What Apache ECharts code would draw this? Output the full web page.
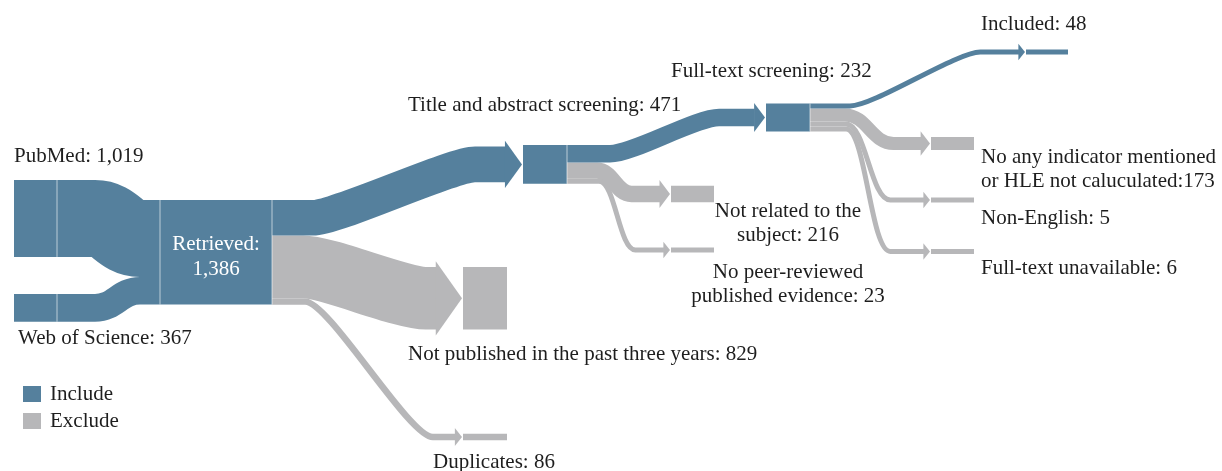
<!DOCTYPE html>
<html><head><meta charset="utf-8">
<script src="https://cdn.jsdelivr.net/npm/echarts@6/dist/echarts.min.js"></script>
<style>html,body{margin:0;padding:0;background:#fff}#chart{width:1222px;height:471px}</style>
</head><body><div id="chart"></div>
<script>
// ---------------- data ----------------
const nodeNames = [
  'PubMed', 'Web of Science', 'Retrieved', 'Title and abstract screening',
  'Not published in the past three years', 'Duplicates', 'Full-text screening',
  'Not related to the subject', 'No peer-reviewed published evidence', 'Included',
  'No any indicator mentioned or HLE not caluculated', 'Non-English', 'Full-text unavailable'
];
const nodeValues = [1019, 367, 1386, 471, 829, 86, 232, 216, 23, 48, 173, 5, 6];
const nodeGroups = ['Include', 'Include', 'Include', 'Include', 'Exclude', 'Exclude', 'Include',
  'Exclude', 'Exclude', 'Include', 'Exclude', 'Exclude', 'Exclude'];
const nodeLabels = [
  'PubMed: {v}', 'Web of Science: {v}', 'Retrieved:\n{v}', 'Title and abstract screening: {v}',
  'Not published in the past three years: {v}', 'Duplicates: {v}', 'Full-text screening: {v}',
  'Not related to the\nsubject: {v}', 'No peer-reviewed\npublished evidence: {v}', 'Included: {v}',
  'No any indicator mentioned\nor HLE not caluculated:{v}', 'Non-English: {v}', 'Full-text unavailable: {v}'
];
const linkSources = ['PubMed', 'Web of Science', 'Retrieved', 'Retrieved', 'Retrieved',
  'Title and abstract screening', 'Title and abstract screening', 'Title and abstract screening',
  'Full-text screening', 'Full-text screening', 'Full-text screening', 'Full-text screening'];
const linkTargets = ['Retrieved', 'Retrieved', 'Title and abstract screening',
  'Not published in the past three years', 'Duplicates', 'Full-text screening',
  'Not related to the subject', 'No peer-reviewed published evidence', 'Included',
  'No any indicator mentioned or HLE not caluculated', 'Non-English', 'Full-text unavailable'];
const linkValues = [1019, 367, 471, 829, 86, 232, 216, 23, 48, 173, 5, 6];
const groupNames = ['Include', 'Exclude'];

// ---------------- layout & style ----------------
const UNIT = 0.0755;      // layout units per record
const MIN_W = 5;          // minimum band width
const COLORS = { Include: '#55809d', Exclude: '#b7b7b9' };
const FONT_FAMILY = '"Liberation Serif", "Times New Roman", serif';
const FONT_SIZE = 21, LINE_H = 24.5;
const ARROW_GAP = 1, ARROW_EXTRA = 5.8;
const nodeLayout = {
  'PubMed': { x: 14, w: 43, yc: 218.5, arrow: false, lab: { dx: 0, dy: -62.5, align: 'left' } },
  'Web of Science': { x: 14, w: 43, yc: 307.9, arrow: false, lab: { dx: 4, dy: 31, align: 'left' } },
  'Retrieved': { x: 160, w: 112, yc: 252.3, arrow: false, lab: { dx: 56, dy: -7.5, align: 'center', fill: '#ffffff' } },
  'Title and abstract screening': { x: 523, w: 44, yc: 164.4, arrow: true, lab: { dx: -115, dy: -59.4, align: 'left' } },
  'Not published in the past three years': { x: 463, w: 44, yc: 298.3, arrow: true, lab: { dx: -55, dy: 55.7, align: 'left' } },
  'Duplicates': { x: 463, w: 44, yc: 437, arrow: true, lab: { dx: -30, dy: 25, align: 'left' } },
  'Full-text screening': { x: 766, w: 44, yc: 117.5, arrow: true, lab: { dx: -95, dy: -46.5, align: 'left' } },
  'Not related to the subject': { x: 671, w: 43, yc: 194, arrow: true, lab: { dx: 117, dy: 17, align: 'center' } },
  'No peer-reviewed published evidence': { x: 671, w: 43, yc: 250, arrow: true, lab: { dx: 117, dy: 22, align: 'center' } },
  'Included': { x: 1026, w: 42, yc: 52, arrow: true, lab: { dx: -45, dy: -28, align: 'left' } },
  'No any indicator mentioned or HLE not caluculated': { x: 931, w: 43, yc: 143.5, arrow: true, lab: { dx: 50, dy: 13.5, align: 'left' } },
  'Non-English': { x: 931, w: 43, yc: 200, arrow: true, lab: { dx: 50, dy: 18, align: 'left' } },
  'Full-text unavailable': { x: 931, w: 43, yc: 251.5, arrow: true, lab: { dx: 50, dy: 16.5, align: 'left' } }
};
// flat run after source (f1) and before arrow/target (f2), keyed by "source>target"
const linkShape = {
  'PubMed>Retrieved': [38, 20], 'Web of Science>Retrieved': [38, 20],
  'Retrieved>Title and abstract screening': [41, 30],
  'Retrieved>Not published in the past three years': [31, 10],
  'Retrieved>Duplicates': [33, 22],
  'Title and abstract screening>Full-text screening': [43, 35],
  'Title and abstract screening>Not related to the subject': [30, 28],
  'Title and abstract screening>No peer-reviewed published evidence': [32, 28],
  'Full-text screening>Included': [40, 38],
  'Full-text screening>No any indicator mentioned or HLE not caluculated': [35, 27],
  'Full-text screening>Non-English': [36, 33],
  'Full-text screening>Full-text unavailable': [36, 33]
};

// ---------------- build model ----------------
const idx = {}; nodeNames.forEach((n, i) => idx[n] = i);
const bw = v => Math.max(v * UNIT, MIN_W);
const fmt = v => v.toLocaleString('en-US');
const nodes = nodeNames.map((n, i) => Object.assign({
  name: n, value: nodeValues[i], group: nodeGroups[i], out: [], inn: [],
  text: nodeLabels[i].replace('{v}', fmt(nodeValues[i]))
}, nodeLayout[n]));
const links = linkValues.map((v, i) => {
  const sh = linkShape[linkSources[i] + '>' + linkTargets[i]] || [36, 28];
  return { s: idx[linkSources[i]], t: idx[linkTargets[i]], value: v, bw: bw(v), f1: sh[0], f2: sh[1] };
});
links.forEach((l, i) => { nodes[l.s].out.push(i); nodes[l.t].inn.push(i); });
nodes.forEach(n => {
  const so = n.out.reduce((a, i) => a + links[i].bw, 0);
  const si = n.inn.reduce((a, i) => a + links[i].bw, 0);
  n.h = Math.max(bw(n.value), so, si);
  n.y = n.yc - n.h / 2;
  let o = n.yc - so / 2;
  n.out.forEach(i => { links[i].y0 = o + links[i].bw / 2; o += links[i].bw; });
  let p = n.yc - si / 2;
  n.inn.forEach(i => { links[i].y1 = p + links[i].bw / 2; p += links[i].bw; });
});

function renderLink(l, api) {
  const s = nodes[l.s], t = nodes[l.t];
  const color = COLORS[t.group];
  const P = (x, y) => api.coord([x, y]);
  const wpx = api.size([0, l.bw])[1];
  const x0 = s.x + s.w;
  const half = l.bw / 2 + ARROW_EXTRA;
  const L = t.arrow ? 0.68 * half + 1 : 0;
  const tip = t.x - ARROW_GAP;
  const x1 = t.arrow ? tip - L : t.x;
  const a = x0 + l.f1, b = x1 - l.f2;
  const c = Math.min((b - a) * 0.45, 24);
  const pt = q => q[0].toFixed(2) + ' ' + q[1].toFixed(2);
  const d = 'M' + pt(P(x0, l.y0)) + ' L' + pt(P(a, l.y0)) +
    ' C' + pt(P(a + c, l.y0)) + ' ' + pt(P(b - c, l.y1)) + ' ' + pt(P(b, l.y1)) +
    ' L' + pt(P(x1 + (t.arrow ? 0.6 : 0), l.y1));
  const children = [{
    type: 'path', silent: true,
    shape: { pathData: d },
    style: { fill: 'none', stroke: color, lineWidth: wpx, lineCap: 'butt', lineJoin: 'round' }
  }];
  if (t.arrow) {
    children.push({
      type: 'polygon', silent: true,
      shape: { points: [P(x1, l.y1 - half), P(tip, l.y1), P(x1, l.y1 + half)] },
      style: { fill: color }
    });
  }
  return { type: 'group', children };
}

function renderNode(n, api) {
  const P = (x, y) => api.coord([x, y]);
  const tl = P(n.x, n.y), br = P(n.x + n.w, n.y + n.h);
  const color = COLORS[n.group];
  const children = [{
    type: 'rect', silent: true,
    shape: { x: tl[0], y: tl[1], width: br[0] - tl[0], height: br[1] - tl[1] },
    style: { fill: color }
  }];
  const sep = x => ({
    type: 'line', silent: true,
    shape: { x1: x, y1: tl[1], x2: x, y2: br[1] },
    style: { stroke: 'rgba(255,255,255,0.6)', lineWidth: 1 }
  });
  if (n.out.length) children.push(sep(br[0]));
  if (n.inn.length && !n.arrow) children.push(sep(tl[0]));
  const lp = P(n.x + n.lab.dx, n.yc + n.lab.dy - LINE_H / 2);
  children.push({
    type: 'text', silent: true, x: lp[0], y: lp[1],
    style: {
      text: n.text, fill: n.lab.fill || '#1e1e1e', fontSize: FONT_SIZE, fontFamily: FONT_FAMILY,
      align: n.lab.align, verticalAlign: 'top', lineHeight: LINE_H
    }
  });
  return { type: 'group', children };
}

function seriesFor(group) {
  const data = [];
  links.forEach((l, i) => { if (nodes[l.t].group === group) data.push([nodes[l.s].x + nodes[l.s].w, l.y0, 0, i]); });
  nodes.forEach((n, i) => { if (n.group === group) data.push([n.x, n.yc, 1, i]); });
  return {
    type: 'custom', name: group, coordinateSystem: 'cartesian2d',
    itemStyle: { color: COLORS[group] },
    encode: { x: 0, y: 1 },
    data,
    renderItem: (params, api) => api.value(2) === 0 ? renderLink(links[api.value(3)], api) : renderNode(nodes[api.value(3)], api)
  };
}

const chart = echarts.init(document.getElementById('chart'), null, { renderer: 'canvas' });
chart.setOption({
  animation: false,
  backgroundColor: '#ffffff',
  grid: { left: 0, right: 0, top: 0, bottom: 0 },
  xAxis: { type: 'value', min: 0, max: 1222, show: false },
  yAxis: { type: 'value', min: 0, max: 471, inverse: true, show: false },
  legend: {
    data: groupNames, orient: 'vertical', left: 23, top: 383.5, padding: 0,
    icon: 'rect', itemWidth: 18, itemHeight: 16, itemGap: 6, selectedMode: false,
    textStyle: { fontSize: FONT_SIZE, fontFamily: FONT_FAMILY, color: '#1e1e1e', padding: [0, 0, 0, 4] }
  },
  series: [seriesFor('Exclude'), seriesFor('Include')]
});
</script>
</body></html>
